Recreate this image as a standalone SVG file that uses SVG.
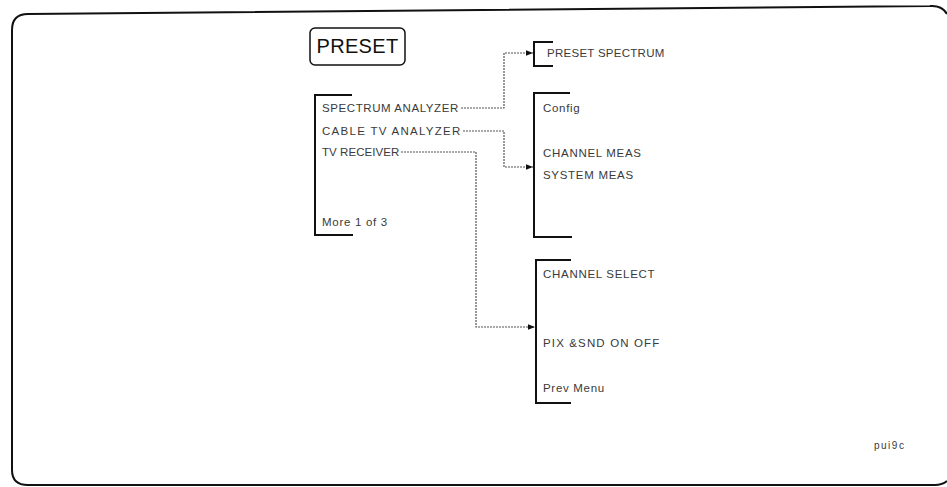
<svg xmlns="http://www.w3.org/2000/svg" width="947" height="487" viewBox="0 0 947 487">
<defs>
<style>
.t{font-family:"Liberation Sans",Arial,sans-serif;font-size:11.5px;letter-spacing:0.7px;fill:#3a3a3a}
.br{fill:none;stroke:#111;stroke-width:2}
.cn{fill:none;stroke:#555;stroke-width:1.2;stroke-dasharray:2 1}
</style>
<marker id="ah" viewBox="0 0 10 10" refX="10" refY="5" markerWidth="10" markerHeight="7" markerUnits="userSpaceOnUse" orient="auto">
<path d="M0,1 L10,5 L0,9 Z" fill="#111"/>
</marker>
</defs>
<rect width="947" height="487" fill="#fff"/>
<path d="M12,30 Q12,14 28,14 L930,6 Q942,5 947,14 M12,30 L12,470 Q12,485 28,485 L935,485 Q942,485 947,481" fill="none" stroke="#111" stroke-width="2"/>

<g id="preset">
<rect x="310" y="28" width="95" height="37" rx="5" fill="none" stroke="#111" stroke-width="1.5"/>
<text x="357.5" y="53" text-anchor="middle" style="font-family:'Liberation Sans',Arial,sans-serif;font-size:20px;fill:#111;letter-spacing:0.3px">PRESET</text>
</g>

<g id="menu1">
<path class="br" d="M352,95 L315,95 L315,235 L353,235"/>
<text class="t" x="322" y="112" textLength="137" lengthAdjust="spacing">SPECTRUM ANALYZER</text>
<text class="t" x="322" y="135" textLength="139" lengthAdjust="spacing">CABLE TV ANALYZER</text>
<text class="t" x="322" y="156" textLength="78" lengthAdjust="spacing">TV RECEIVER</text>
<text class="t" x="322" y="226">More 1 of 3</text>
</g>

<g id="menu-preset-spectrum">
<path class="br" d="M553,42 L534,42 L534,66 L553,66"/>
<text class="t" x="547" y="57" textLength="118" lengthAdjust="spacing">PRESET SPECTRUM</text>
</g>

<g id="menu-catv">
<path class="br" d="M570,93 L534,93 L534,237 L572,237"/>
<text class="t" x="543" y="112">Config</text>
<text class="t" x="543" y="157">CHANNEL MEAS</text>
<text class="t" x="543" y="179">SYSTEM MEAS</text>
</g>

<g id="menu-tv">
<path class="br" d="M571,260 L536,260 L536,403 L571,403"/>
<text class="t" x="543" y="278">CHANNEL SELECT</text>
<text class="t" x="543" y="347" textLength="117" lengthAdjust="spacing">PIX &amp;SND ON OFF</text>
<text class="t" x="543" y="392">Prev Menu</text>
</g>

<g id="connectors">
<path class="cn" d="M461,108 L504,108 L504,53 L533,53" marker-end="url(#ah)"/>
<path class="cn" d="M463,131 L504,131 L504,167 L533,167" marker-end="url(#ah)"/>
<path class="cn" d="M401,152 L476,152 L476,327 L535,327" marker-end="url(#ah)"/>
</g>

<text class="t" x="874" y="449" style="font-size:10px;letter-spacing:1.5px">pui9c</text>
</svg>
